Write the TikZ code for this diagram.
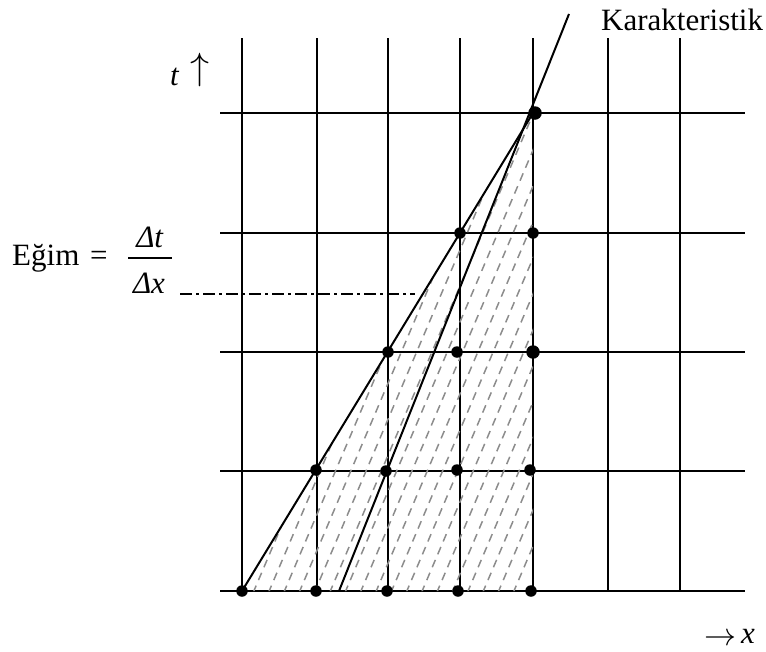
\documentclass[tikz,border=0pt]{standalone}
\usepackage{fontspec}
\setmainfont{Liberation Serif}
\definecolor{hatchgray}{RGB}{140,140,140}
\begin{document}
\begin{tikzpicture}[x=1pt,y=-1pt,
  gridline/.style={line width=2pt},
  charline/.style={line width=2pt},
  hatchline/.style={line width=1.5pt, draw=hatchgray, dash pattern=on 8pt off 6pt},
  dot/.style={circle, fill=black, inner sep=0pt, minimum size=11.5pt},
  bigdot/.style={dot, minimum size=13.5pt},
  lbl/.style={font=\fontsize{31}{36}\selectfont, inner sep=0pt}]
\useasboundingbox (0,0) rectangle (766,651);
% grid
\foreach \x in {242,317,388,460,533,608,680} \draw[gridline] (\x,38) -- (\x,591);
\foreach \y in {113,233,352,471,591} \draw[gridline] (220,\y) -- (745,\y);
% key points
\coordinate (O) at (242,591);
\coordinate (P) at (533,113);
\coordinate (B) at (533,591);
\coordinate (Q) at (339,591);
\coordinate (R) at (569,14);
% hatching
\begin{scope}
  \clip (O) -- (B) -- (P) -- cycle;
  \foreach \i in {0,...,19} \draw[hatchline] ({253+15.3*\i},593) -- ++(255,-600);
\end{scope}
% characteristic lines
\draw[charline] (O) -- (P);
\draw[charline] (Q) -- (R);
% dash-dot level line
\coordinate (L1) at (180,294);
\coordinate (L2) at (415,294);
\draw[line width=1.5pt, dash pattern=on 12pt off 4pt on 3pt off 4pt] (L1) -- (L2);
% dots
\node[dot] (d11) at (242,591) {};
\node[dot] (d12) at (316,591) {};
\node[dot] (d13) at (387,591) {};
\node[dot] (d14) at (458,591) {};
\node[dot] (d15) at (531,591) {};
\node[dot] (d22) at (316,470) {};
\node[dot] (d23) at (386,471) {};
\node[dot] (d24) at (457,470) {};
\node[dot] (d25) at (530,470) {};
\node[dot] (d33) at (388,352) {};
\node[dot] (d34) at (457,352) {};
\node[bigdot] (d35) at (533,352) {};
\node[dot] (d44) at (460,233) {};
\node[dot] (d45) at (533,233) {};
\node[bigdot] (d55) at (535,113) {};
% labels
\node[lbl, anchor=base west] (kar) at (601,30) {Karakteristik};
\node[lbl, anchor=base west] (tl) at (170,85) {\textit{t}};
\node[inner sep=0pt, anchor=south west] (ta) at (190,87) {\scalebox{3.8}{$\uparrow$}};
\node[inner sep=0pt, anchor=base west] (xa) at (704,645) {\scalebox{3.2}{$\rightarrow$}};
\node[lbl, anchor=base west] (xl) at (741,643) {\textit{x}};
\node[lbl, anchor=base west] (eg) at (12,265) {Eğim};
\node[lbl, anchor=base west] (eq) at (90,265) {=};
\node[lbl, anchor=base] (num) at (150,247) {\textit{Δt}};
\node[lbl, anchor=base] (den) at (149,293) {\textit{Δx}};
\coordinate (F1) at (128,258);
\coordinate (F2) at (172,258);
\draw[line width=1.5pt] (F1) -- (F2);
\end{tikzpicture}
\end{document}
